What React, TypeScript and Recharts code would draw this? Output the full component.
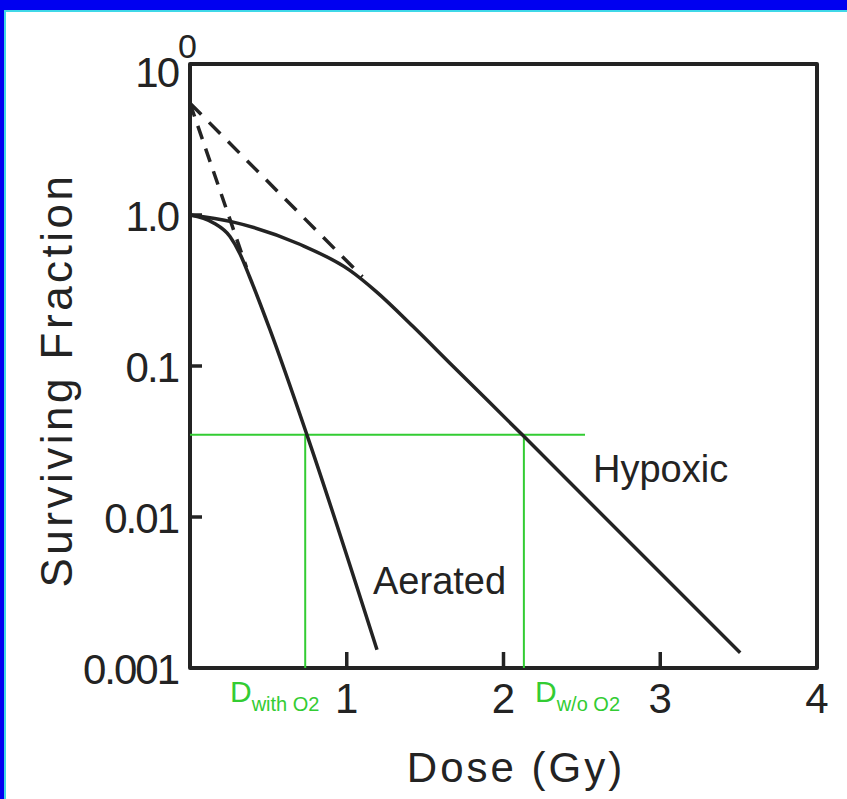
import { Line, LineChart, ReferenceArea, ReferenceLine, XAxis, YAxis } from "recharts";

// dose (Gy) vs surviving fraction
const hypoxic = [
  { d: 0, s: 1.0 },
  { d: 0.27, s: 0.9 },
  { d: 0.7, s: 0.64 },
  { d: 1.02, s: 0.43 },
  { d: 1.19, s: 0.31 },
  { d: 1.42, s: 0.184 },
  { d: 1.66, s: 0.104 },
  { d: 2.12, s: 0.035 },
  { d: 3.51, s: 0.00126 },
];

const aerated = [
  { d: 0, s: 1.0 },
  { d: 0.147, s: 0.89 },
  { d: 0.255, s: 0.72 },
  { d: 0.32, s: 0.55 },
  { d: 0.38, s: 0.39 },
  { d: 0.51, s: 0.174 },
  { d: 0.746, s: 0.035 },
  { d: 1.193, s: 0.00132 },
];

// extrapolated straight parts (dashed)
const hypoxicExtrap = [
  { d: 0, s: 5.5 },
  { d: 1.1, s: 0.39 },
];
const aeratedExtrap = [
  { d: 0, s: 5.5 },
  { d: 0.36, s: 0.45 },
];

const xTicks = [1, 2, 3, 4];
const yTicks = [0.001, 0.01, 0.1, 1, 10];
const yTickLabels: Record<string, string> = {
  "0.001": "0.001",
  "0.01": "0.01",
  "0.1": "0.1",
  "1": "1.0",
  "10": "10",
};

// iso-effect level and the two doses that reach it
const isoLevel = 0.035;
const doseWithO2 = 0.735;
const doseWithoutO2 = 2.13;
const isoLineEnd = 2.52;

const ink = "#232323";
const green = "#33cc33";
const font = "'Liberation Sans', Arial, sans-serif";

function XTick(props: any) {
  const { x, y, payload } = props;
  const v = payload.value;
  return (
    <g>
      {v < 4 && <line x1={x} y1={y} x2={x} y2={y - 16} stroke={ink} strokeWidth={3.5} />}
      <text x={x} y={y + 45} textAnchor="middle" fontSize={42} fill={ink} fontFamily={font}>
        {v}
      </text>
    </g>
  );
}

function YTick(props: any) {
  const { x, y, payload } = props;
  const v = payload.value;
  const label = yTickLabels[String(v)];
  if (v === 10) {
    return (
      <g fontFamily={font} fill={ink}>
        <text x={178} y={y + 23} textAnchor="end" fontSize={42} letterSpacing={-2}>
          {label}
        </text>
        <text x={178} y={y - 6} fontSize={34}>
          0
        </text>
      </g>
    );
  }
  return (
    <g>
      {v > 0.001 && <line x1={x} y1={y} x2={x + 12} y2={y} stroke={ink} strokeWidth={3.5} />}
      <text x={178} y={y + 16} textAnchor="end" fontSize={42} letterSpacing={-2} fill={ink} fontFamily={font}>
        {label}
      </text>
    </g>
  );
}

export default function App() {
  return (
    <div
      style={{
        position: "absolute",
        left: 0,
        top: 0,
        width: 847,
        height: 799,
        background: "#fff",
        overflow: "hidden",
      }}
    >
      <div style={{ position: "absolute", left: 0, top: 0, width: 847, height: 10, background: "#0000f0" }} />
      <div style={{ position: "absolute", left: 5, top: 10, width: 842, height: 1.5, background: "#40d8e8" }} />
      <div style={{ position: "absolute", left: 0, top: 0, width: 4, height: 799, background: "#0000f0" }} />
      <div style={{ position: "absolute", left: 4, top: 10, width: 1.5, height: 789, background: "#40d8e8" }} />

      <div style={{ position: "absolute", left: 0, top: 0 }}>
        <LineChart width={847} height={799} margin={{ top: 64, right: 30, left: 0, bottom: 0 }}>
          <XAxis
            type="number"
            dataKey="d"
            domain={[0, 4]}
            ticks={xTicks}
            interval={0}
            allowDataOverflow
            axisLine={false}
            tickLine={false}
            tickSize={0}
            tickMargin={0}
            height={131}
            tick={<XTick />}
          />
          <YAxis
            type="number"
            dataKey="s"
            scale="log"
            domain={[0.001, 10]}
            ticks={yTicks}
            interval={0}
            allowDataOverflow
            axisLine={false}
            tickLine={false}
            tickSize={0}
            tickMargin={0}
            width={190}
            tick={<YTick />}
          />
          <ReferenceArea
            x1={0}
            x2={4}
            y1={0.001}
            y2={10}
            fill="none"
            fillOpacity={0}
            stroke={ink}
            strokeWidth={4}
            strokeLinejoin="round"
            ifOverflow="visible"
          />
          <ReferenceLine
            segment={[
              { x: 0, y: isoLevel },
              { x: isoLineEnd, y: isoLevel },
            ]}
            stroke={green}
            strokeWidth={2}
          />
          <ReferenceLine
            segment={[
              { x: doseWithO2, y: 0.001 },
              { x: doseWithO2, y: isoLevel },
            ]}
            stroke={green}
            strokeWidth={2}
          />
          <ReferenceLine
            segment={[
              { x: doseWithoutO2, y: 0.001 },
              { x: doseWithoutO2, y: isoLevel },
            ]}
            stroke={green}
            strokeWidth={2}
          />
          <Line
            data={hypoxicExtrap}
            dataKey="s"
            type="linear"
            stroke={ink}
            strokeWidth={3.5}
            strokeDasharray="16 11"
            dot={false}
            isAnimationActive={false}
          />
          <Line
            data={aeratedExtrap}
            dataKey="s"
            type="linear"
            stroke={ink}
            strokeWidth={3.5}
            strokeDasharray="14 10"
            dot={false}
            isAnimationActive={false}
          />
          <Line
            data={hypoxic}
            dataKey="s"
            type="monotone"
            stroke={ink}
            strokeWidth={3.5}
            dot={false}
            isAnimationActive={false}
          />
          <Line
            data={aerated}
            dataKey="s"
            type="monotone"
            stroke={ink}
            strokeWidth={3.5}
            dot={false}
            isAnimationActive={false}
          />
        </LineChart>
      </div>

      <svg
        width={847}
        height={799}
        style={{ position: "absolute", left: 0, top: 0, pointerEvents: "none" }}
        fontFamily={font}
      >
        <text x={593} y={482} fontSize={38} fill={ink}>
          Hypoxic
        </text>
        <text x={373} y={594} fontSize={38} fill={ink}>
          Aerated
        </text>
        <text x={230} y={702} fill={green}>
          <tspan fontSize={30}>D</tspan>
          <tspan fontSize={20} dy={9}>
            with O2
          </tspan>
        </text>
        <text x={535} y={702} fill={green}>
          <tspan fontSize={30}>D</tspan>
          <tspan fontSize={20} dy={9}>
            w/o O2
          </tspan>
        </text>
        <text x={516} y={782} textAnchor="middle" fontSize={42} letterSpacing={3} fill={ink}>
          Dose (Gy)
        </text>
        <text
          x={0}
          y={0}
          transform="translate(72 380) rotate(-90)"
          textAnchor="middle"
          fontSize={44}
          letterSpacing={3.5}
          fill={ink}
        >
          Surviving Fraction
        </text>
      </svg>
    </div>
  );
}
